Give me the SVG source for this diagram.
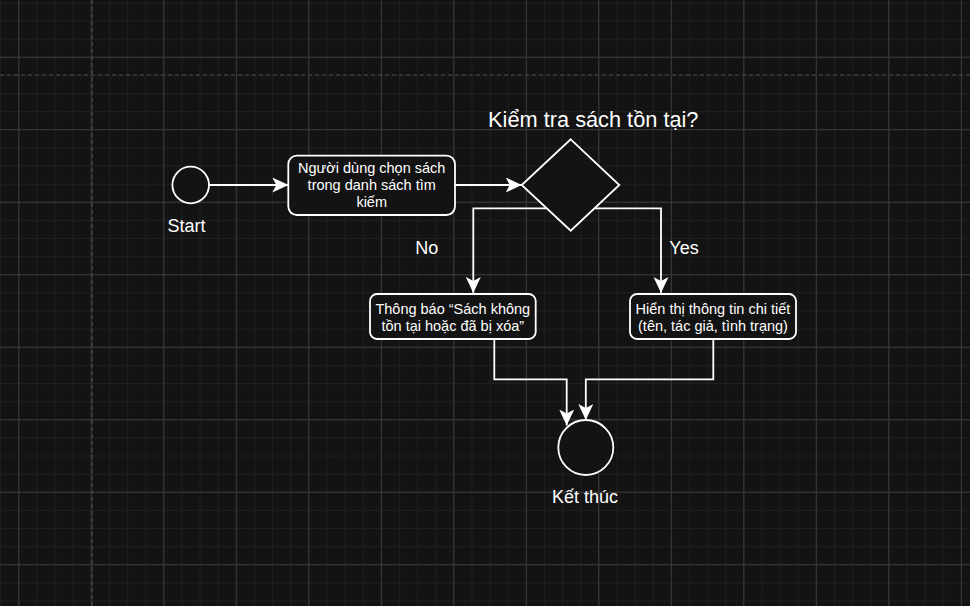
<svg xmlns="http://www.w3.org/2000/svg" width="970" height="606" viewBox="0 0 970 606">
  <style>
    .node { fill: #131313; stroke: #ffffff; stroke-width: 1.8; }
    .edge { fill: none; stroke: #ffffff; stroke-width: 1.8; }
    .txt { fill: #ffffff; font-family: "Liberation Sans", Arial, Helvetica, sans-serif; text-anchor: middle; }
    .t14 { font-size: 14.5px; }
    .t18 { font-size: 18px; }
    .t22 { font-size: 21.75px; }
    .page { stroke: #4a4a4a; stroke-width: 1; stroke-dasharray: 4 3; fill: none; }
  </style>
  <defs>
    <pattern id="minor" patternUnits="userSpaceOnUse" x="0.2" y="2.4" width="18.125" height="18.125">
      <rect x="0" y="0" width="1" height="18.125" fill="#1f1f1f"/>
      <rect x="0" y="0" width="18.125" height="1" fill="#1f1f1f"/>
    </pattern>
    <pattern id="major" patternUnits="userSpaceOnUse" x="18.3" y="56.7" width="72.5" height="72.5">
      <rect x="0" y="0" width="1" height="72.5" fill="#3a3a3a"/>
      <rect x="0" y="0" width="72.5" height="1" fill="#3a3a3a"/>
    </pattern>
    <marker id="arrow" markerUnits="userSpaceOnUse" markerWidth="16" markerHeight="15" refX="16" refY="7.5" orient="auto" viewBox="0 0 16 15">
      <path d="M0,0 L16,7.5 L0,15 L4,7.5 Z" fill="#ffffff"/>
    </marker>
  </defs>

  <g id="background">
    <rect x="0" y="0" width="970" height="606" fill="#131313"/>
    <rect x="0" y="0" width="970" height="606" fill="url(#minor)"/>
    <rect x="0" y="0" width="970" height="606" fill="url(#major)"/>
    <line class="page" x1="92.3" y1="0" x2="92.3" y2="606"/>
    <line class="page" x1="0" y1="75" x2="970" y2="75"/>
  </g>

  <g id="connectors">
    <path class="edge" d="M209,185 H288.3" marker-end="url(#arrow)"/>
    <path class="edge" d="M455,185 H521.7" marker-end="url(#arrow)"/>
    <path class="edge" d="M570.7,208.3 H473.3 V293" marker-end="url(#arrow)"/>
    <path class="edge" d="M570.7,208.3 H661 V293" marker-end="url(#arrow)"/>
    <path class="edge" d="M494.3,339 V379.3 H566.7 V425.5" marker-end="url(#arrow)"/>
    <path class="edge" d="M713.3,339 V379.3 H585.8 V420" marker-end="url(#arrow)"/>
    <text class="txt t18" x="426.7" y="254">No</text>
    <text class="txt t18" x="684" y="254">Yes</text>
  </g>

  <g id="start">
    <circle class="node" cx="190.7" cy="185" r="18.3"/>
    <text class="txt t18" x="186.5" y="231.7">Start</text>
  </g>

  <g id="choose-book">
    <rect class="node" x="288.3" y="155.7" width="166.7" height="59.3" rx="8.5" ry="8.5"/>
    <text class="txt t14" x="371.7" y="173">Người dùng chọn sách</text>
    <text class="txt t14" x="371.7" y="190">trong danh sách tìm</text>
    <text class="txt t14" x="371.7" y="207">kiếm</text>
  </g>

  <g id="check-exists">
    <path class="node" d="M570.7,139.3 L619.3,185 L570.7,230.7 L521.7,185 Z"/>
    <text class="txt t22" x="593.3" y="126.7">Kiểm tra sách tồn tại?</text>
  </g>

  <g id="not-found">
    <rect class="node" x="370" y="294" width="165.7" height="45" rx="7" ry="7"/>
    <text class="txt t14" x="452.8" y="313.5">Thông báo “Sách không</text>
    <text class="txt t14" x="452.8" y="330.5">tồn tại hoặc đã bị xóa”</text>
  </g>

  <g id="show-details">
    <rect class="node" x="630" y="294" width="166" height="45" rx="7" ry="7"/>
    <text class="txt t14" x="713" y="313.5">Hiển thị thông tin chi tiết</text>
    <text class="txt t14" x="713" y="330.5">(tên, tác giả, tình trạng)</text>
  </g>

  <g id="end">
    <circle class="node" cx="585.8" cy="447.5" r="27.5"/>
    <text class="txt t18" x="585" y="502.7">Kết thúc</text>
  </g>
</svg>
